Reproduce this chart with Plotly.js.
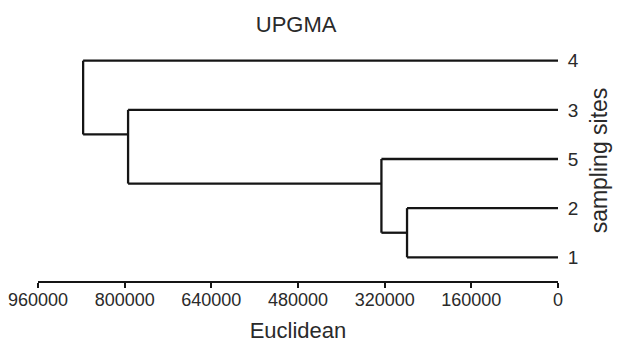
<!DOCTYPE html>
<html>
<head>
<meta charset="utf-8">
<script src="https://cdn.plot.ly/plotly-3.0.1.min.js"></script>
<style>html,body{margin:0;padding:0;background:#fff;}#chart{width:617px;height:343px;}</style>
</head>
<body>
<div id="chart"></div>
<script>
// Leaf order, bottom to top
const leafLabels = ['1', '2', '5', '3', '4'];
// Merges (UPGMA): children and linkage distance (Euclidean)
const mergeA = ['1', 'm1', 'm2', 'm3'];
const mergeB = ['2', '5', '3', '4'];
const mergeNames = ['m1', 'm2', 'm3', 'm4'];
const mergeHeights = [278700, 326000, 793700, 876700];
// x tick values
const xTickVals = [960000, 800000, 640000, 480000, 320000, 160000, 0];

// Build dendrogram geometry from the data
const node = {};
leafLabels.forEach((lab, i) => {
  node[lab] = { x: 0, y: i + 1, top: i + 1, bottom: i + 1 };
});
const xs = [], ys = [];
function seg(x0, y0, x1, y1) { xs.push(x0, x1, null); ys.push(y0, y1, null); }
mergeNames.forEach((name, k) => {
  const a = node[mergeA[k]], b = node[mergeB[k]];
  const lo = a.y < b.y ? a : b, hi = a.y < b.y ? b : a;
  const h = mergeHeights[k];
  seg(lo.x, lo.y, h, lo.y);
  seg(hi.x, hi.y, h, hi.y);
  seg(h, lo.y, h, hi.y);
  const stem = (lo.top + hi.bottom) / 2;
  node[name] = { x: h, y: stem, top: Math.max(a.top, b.top), bottom: Math.min(a.bottom, b.bottom) };
});

const trace = {
  x: xs, y: ys, type: 'scatter', mode: 'lines',
  line: { color: '#151515', width: 2.3 },
  hoverinfo: 'skip', showlegend: false, connectgaps: false
};

const font = 'Liberation Sans, Arial, sans-serif';
const txt = '#2a2a2a';
const layout = {
  width: 617, height: 343,
  margin: { l: 38, r: 59, t: 40, b: 62 },
  paper_bgcolor: '#fff', plot_bgcolor: '#fff',
  font: { family: font, color: txt },
  title: { text: 'UPGMA', font: { size: 22, family: font, color: txt }, x: 0.48, xanchor: 'center', y: 0.93, yanchor: 'middle' },
  xaxis: {
    range: [960000, 0], autorange: false,
    showgrid: false, zeroline: false,
    showline: true, linecolor: '#151515', linewidth: 2,
    ticks: 'outside', ticklen: 5, tickwidth: 2, tickcolor: '#151515',
    ticklabelstandoff: -4,
    tickvals: xTickVals, ticktext: xTickVals.map(String),
    tickfont: { size: 18, family: font, color: txt },
    title: { text: 'Euclidean', font: { size: 22, family: font, color: txt }, standoff: 21 }
  },
  yaxis: {
    range: [0.518, 5.421], autorange: false,
    side: 'right', showgrid: false, zeroline: false, showline: false,
    tickvals: [1, 2, 3, 4, 5], ticktext: leafLabels,
    ticks: 'outside', ticklen: 5, tickcolor: 'rgba(0,0,0,0)',
    tickfont: { size: 19, family: font, color: txt },
    title: { text: 'sampling sites', font: { size: 23, family: font, color: txt }, standoff: 13 }
  }
};

Plotly.newPlot('chart', [trace], layout, { displayModeBar: false, staticPlot: true });
</script>
</body>
</html>
